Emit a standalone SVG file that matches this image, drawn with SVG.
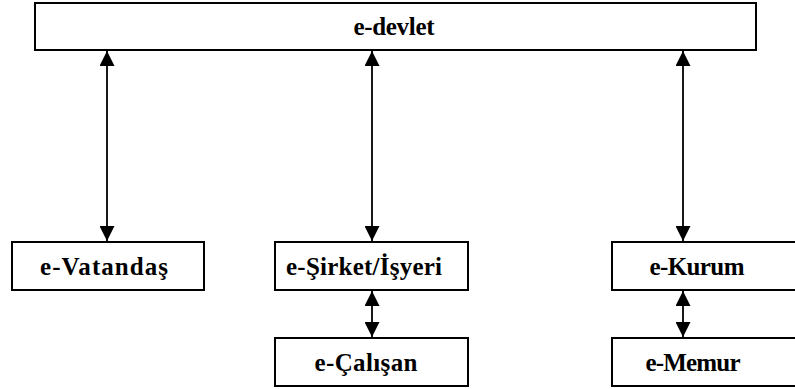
<svg xmlns="http://www.w3.org/2000/svg" width="795" height="389" viewBox="0 0 795 389">
<style>
.box{fill:#fff;stroke:#000;stroke-width:2}
.lbl{font-family:"Liberation Serif","Times New Roman",serif;font-weight:bold;font-size:25px;fill:#000;text-anchor:middle}
.conn line{stroke:#000;stroke-width:1.8}
</style>
<defs>
<marker id="ah" viewBox="0 0 15 15" refX="15" refY="7.5" markerWidth="15" markerHeight="15" markerUnits="userSpaceOnUse" orient="auto-start-reverse">
<path d="M0,0 L15,7.5 L0,15 Z" fill="#000"/>
</marker>
</defs>
<rect width="795" height="389" fill="#fff"/>
<g id="n-devlet"><rect class="box" x="35" y="3" width="721" height="47"/><text class="lbl" x="394" y="35" textLength="81">e-devlet</text></g>
<g id="n-vatandas"><rect class="box" x="12" y="242" width="192" height="48"/><text class="lbl" x="104" y="275" textLength="128">e-Vatandaş</text></g>
<g id="n-sirket"><rect class="box" x="275" y="242" width="193" height="48"/><text class="lbl" x="364" y="275" textLength="156">e-Şirket/İşyeri</text></g>
<g id="n-calisan"><rect class="box" x="275" y="338" width="193" height="48"/><text class="lbl" x="366" y="371" textLength="103">e-Çalışan</text></g>
<g id="n-kurum"><rect class="box" x="612" y="242" width="190" height="48"/><text class="lbl" x="697" y="275" textLength="95">e-Kurum</text></g>
<g id="n-memur"><rect class="box" x="612" y="338" width="190" height="48"/><text class="lbl" x="693" y="371" textLength="95">e-Memur</text></g>
<g class="conn" id="connectors">
<line x1="107" y1="51" x2="107" y2="241" marker-start="url(#ah)" marker-end="url(#ah)"/>
<line x1="372" y1="51" x2="372" y2="241" marker-start="url(#ah)" marker-end="url(#ah)"/>
<line x1="683" y1="51" x2="683" y2="241" marker-start="url(#ah)" marker-end="url(#ah)"/>
<line x1="372" y1="291" x2="372" y2="337" marker-start="url(#ah)" marker-end="url(#ah)"/>
<line x1="683" y1="291" x2="683" y2="337" marker-start="url(#ah)" marker-end="url(#ah)"/>
</g>
</svg>
